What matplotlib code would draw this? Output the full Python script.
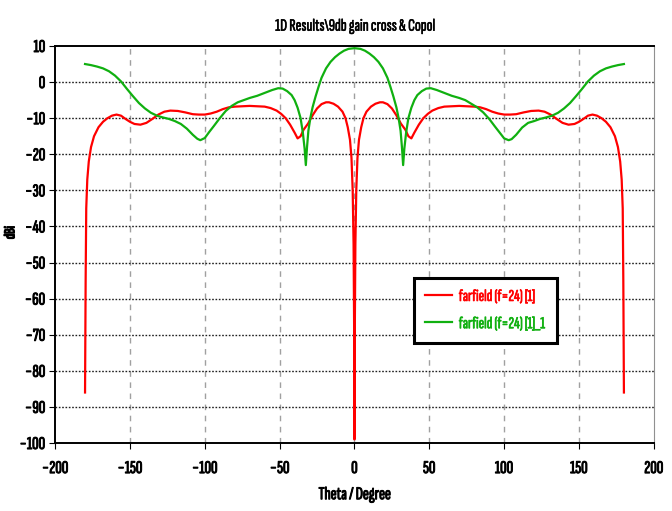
"""Far-field cut: co-pol vs cross-pol gain over theta for the 9 dB horn."""
import matplotlib
matplotlib.use("Agg")
import matplotlib.pyplot as plt
import matplotlib.patheffects as pe

# farfield (f=24) [1]
red_theta = [-180, -179.6, -179.2, -178.5, -177.5, -176, -174, -171, -168, -165,
             -162, -159, -156, -153, -150, -147, -143, -139, -135, -131,
             -127, -123, -118, -113, -108, -104, -100, -96, -92, -88,
             -84, -80, -75, -70, -65, -60, -56, -52, -49, -46,
             -43, -40, -38, -36, -34, -31, -28, -25, -22, -19,
             -17, -14, -11, -8, -6, -4.5, -3, -2, -1.2, -0.6, -0.2, 0,
             0.2, 0.6, 1.2, 2, 3, 4.5, 6, 8, 11, 14,
             17, 19, 22, 25, 28, 31, 34, 36, 38, 40,
             43, 46, 49, 52, 56, 60, 65, 70, 75, 80,
             84, 88, 92, 96, 100, 104, 108, 113, 118, 123,
             127, 131, 135, 139, 143, 147, 150, 153, 156, 159,
             162, 165, 168, 171, 174, 176, 177.5, 178.5, 179.2, 179.6, 180]
red_gain = [-86, -55, -35, -27, -22, -18, -15, -12.5, -11, -10,
            -9.3, -9.0, -9.3, -10.2, -11.0, -11.6, -11.8, -11.3, -10.2, -9.0,
            -8.2, -7.9, -8.0, -8.4, -8.9, -9.0, -9.0, -8.7, -8.2, -7.5,
            -7.0, -6.8, -6.7, -6.6, -6.7, -6.8, -7.2, -7.9, -8.8, -10.0,
            -11.8, -14.0, -15.6, -15.0, -13.2, -11.5, -9.2, -7.3, -6.1, -5.6,
            -5.6, -6.0, -6.8, -8.2, -10.0, -12.5, -16, -21, -30, -45, -70, -99,
            -70, -45, -30, -21, -16, -12.5, -10.0, -8.2, -6.8, -6.0,
            -5.6, -5.6, -6.1, -7.3, -9.2, -11.5, -13.2, -15.0, -15.6, -14.0,
            -11.8, -10.0, -8.8, -7.9, -7.2, -6.8, -6.7, -6.6, -6.7, -6.8,
            -7.0, -7.5, -8.2, -8.7, -9.0, -9.0, -8.9, -8.4, -8.0, -7.9,
            -8.2, -9.0, -10.2, -11.3, -11.8, -11.6, -11.0, -10.2, -9.3, -9.0,
            -9.3, -10, -11, -12.5, -15, -18, -22, -27, -35, -55, -86]

# farfield (f=24) [1]_1
green_theta = [-180, -176, -172, -168, -164, -160, -156, -152, -148, -144,
               -140, -136, -132, -128, -124, -120, -116, -112, -108, -105,
               -103, -100, -97, -94, -90, -86, -82, -78, -74, -70,
               -65, -60, -55, -51, -48, -45, -42, -40, -38, -36,
               -34.5, -33.3, -32.5, -31.7, -30.8, -29.5, -28, -26, -24, -22,
               -19, -16, -13, -10, -7, -4, 0,
               4, 7, 10, 13, 16, 19, 22, 24, 26, 28,
               29.5, 30.8, 31.7, 32.5, 33.3, 34.5, 36, 38, 40, 42,
               45, 48, 51, 55, 60, 65, 70, 74, 78, 82,
               86, 90, 94, 97, 100, 103, 105, 108, 112, 116,
               120, 124, 128, 132, 136, 140, 144, 148, 152, 156,
               160, 164, 168, 172, 176, 180]
green_gain = [5.0, 4.7, 4.3, 3.8, 3.0, 1.8, 0.2, -1.9, -3.9, -5.8,
              -7.3, -8.5, -9.3, -9.8, -10.2, -10.8, -11.6, -12.9, -14.6, -15.7,
              -16.1, -15.5, -13.8, -12.2, -10.0, -8.0, -6.6, -5.6, -5.0, -4.4,
              -3.8, -3.0, -2.2, -1.7, -1.8, -2.5, -3.6, -5.0, -7.1, -10.0,
              -14.0, -18.5, -23.0, -18.0, -13.5, -10.0, -7.0, -4.0, -1.3, 1.2,
              3.8, 5.6, 6.9, 7.9, 8.7, 9.2, 9.4,
              9.2, 8.7, 7.9, 6.9, 5.6, 3.8, 1.2, -1.3, -4.0, -7.0,
              -10.0, -13.5, -18.0, -23.0, -18.5, -14.0, -10.0, -7.1, -5.0, -3.6,
              -2.5, -1.8, -1.7, -2.2, -3.0, -3.8, -4.4, -5.0, -6.0, -7.0,
              -8.4, -10.2, -12.4, -14.0, -15.6, -16.1, -15.8, -14.6, -12.6, -11.3,
              -10.8, -10.2, -9.8, -9.3, -8.5, -7.3, -5.8, -3.9, -1.9, 0.2,
              1.8, 3.0, 3.8, 4.3, 4.7, 5.0]

x_ticks = list(range(-200, 201, 50))
y_ticks = list(range(-100, 11, 10))

plt.rcParams["font.family"] = ["Sofia Sans Extra Condensed", "DejaVu Sans"]


def heavy(txt, w=0.7):
    # the condensed face only ships a light weight; fatten it with a stroke
    txt.set_path_effects([pe.withStroke(linewidth=w, foreground=txt.get_color())])


fig = plt.figure(figsize=(6.72, 5.11), dpi=100)
ax = fig.add_axes([0.082, 0.133, 0.891, 0.777])

ax.plot(red_theta, red_gain, color="#ff0000", lw=1.6, label="farfield (f=24) [1]")
ax.plot(green_theta, green_gain, color="#10b010", lw=1.6, label="farfield (f=24) [1]_1")

ax.set_xlim(-200, 200)
ax.set_ylim(-100, 10)
ax.set_xticks(x_ticks)
ax.set_yticks(y_ticks)
ax.tick_params(labelsize=13, length=4, width=0.8, pad=3)
ax.tick_params(axis="x", pad=9)
for lbl in ax.get_xticklabels() + ax.get_yticklabels():
    heavy(lbl)

for x in x_ticks[1:-1]:
    ax.axvline(x, color="#a0a0a0", lw=1.0, ls=(0, (4, 4)), zorder=0)
for y in y_ticks[1:-1]:
    ax.axhline(y, color="#202020", lw=1.0, ls=(0, (1.2, 1.2)), zorder=0)

for side in ("left", "bottom", "top"):
    ax.spines[side].set_linewidth(1.4)
ax.spines["right"].set_color("#909090")

heavy(ax.set_title("1D Results\\9db gain cross & Copol", fontsize=12.5, pad=11), 0.4)
heavy(ax.set_xlabel("Theta / Degree", fontsize=13, labelpad=8))
heavy(ax.set_ylabel("dBi", fontsize=11), 0.9)
ax.yaxis.set_label_coords(-0.063, 0.53)

leg = ax.legend(loc="lower left", bbox_to_anchor=(0.599, 0.252), fontsize=12,
                frameon=True, fancybox=False, framealpha=1, handlelength=1.6,
                handletextpad=0.4, borderpad=0.7, labelspacing=0.75,
                borderaxespad=0)
leg.set_zorder(10)
leg.get_frame().set_edgecolor("black")
leg.get_frame().set_linewidth(2.2)
for txt, line in zip(leg.get_texts(), leg.get_lines()):
    txt.set_color(line.get_color())
    heavy(txt, 0.5)

fig.savefig("out.png", dpi=100)
